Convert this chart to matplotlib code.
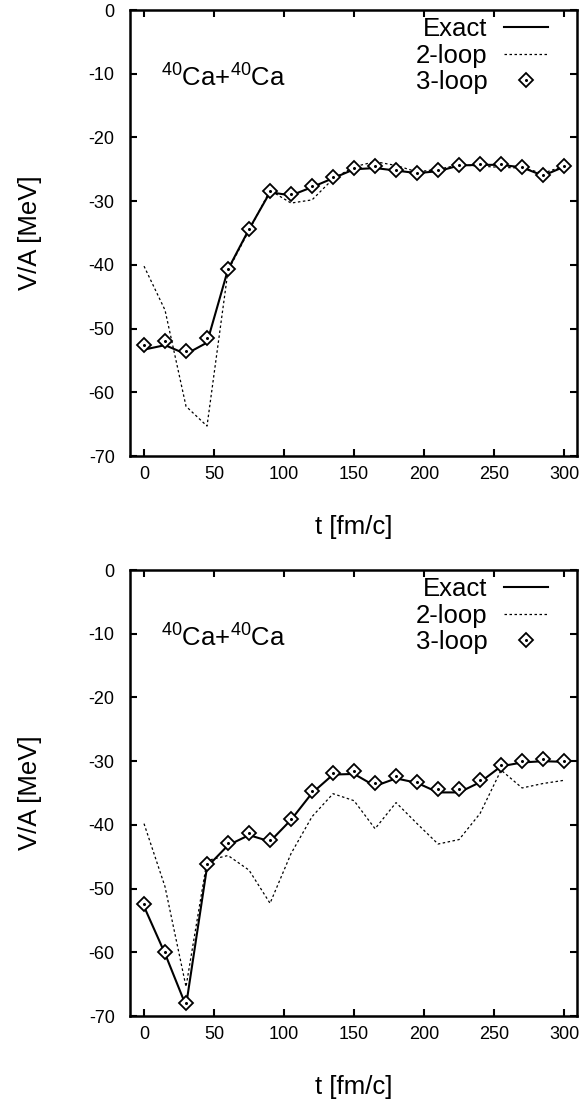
import numpy as np
import matplotlib
matplotlib.use("Agg")
import matplotlib.pyplot as plt
from matplotlib.lines import Line2D

plt.rcParams['font.family'] = ['Liberation Sans', 'DejaVu Sans']
plt.rcParams['mathtext.default'] = 'regular'
plt.rcParams['axes.unicode_minus'] = False

# time grid (fm/c)
t = np.arange(0, 301, 15)

# --- upper panel ---
exact_top = [-53.3, -52.6, -54.0, -52.2, -40.7, -34.4, -28.6, -29.1, -27.8, -26.4, -25.0,
             -24.8, -25.2, -25.6, -25.3, -24.4, -24.3, -24.3, -24.7, -26.0, -24.6]
loop2_top = [-40.2, -47.1, -62.2, -65.3, -40.9, -34.6, -28.3, -30.3, -29.8, -26.5, -24.6,
             -23.8, -24.4, -25.4, -25.0, -24.3, -24.5, -24.7, -24.8, -25.6, -24.5]
loop3_top = [-52.6, -51.9, -53.5, -51.4, -40.7, -34.4, -28.4, -28.9, -27.6, -26.2, -24.8,
             -24.5, -25.1, -25.6, -25.1, -24.3, -24.2, -24.2, -24.7, -25.9, -24.5]

# --- lower panel ---
exact_bot = [-52.8, -60.2, -68.4, -46.6, -43.2, -41.6, -42.6, -39.2, -35.0, -32.1, -32.0,
             -33.9, -32.7, -33.4, -34.9, -34.9, -33.3, -30.8, -30.2, -30.0, -30.1]
loop2_bot = [-39.8, -49.7, -65.4, -45.6, -44.8, -47.1, -52.3, -44.5, -38.7, -35.1, -36.2,
             -40.6, -36.5, -39.8, -43.0, -42.3, -38.2, -31.4, -34.2, -33.5, -33.0]
loop3_bot = [-52.4, -60.0, -67.9, -46.1, -42.9, -41.2, -42.3, -39.0, -34.7, -31.8, -31.5,
             -33.5, -32.4, -33.2, -34.4, -34.3, -33.0, -30.6, -29.9, -29.7, -30.0]

x_ticks = [0, 50, 100, 150, 200, 250, 300]
y_ticks = [0, -10, -20, -30, -40, -50, -60, -70]
label_text = r'$^{40}$Ca+$^{40}$Ca'

MS = 7.6


def draw_panel(ax, exact, loop2, loop3):
    ax.plot(t, exact, color='black', lw=1.5)
    ax.plot(t, loop2, color='black', lw=0.9, linestyle=(0, (2.0, 2.0)))
    ax.plot(t, loop3, linestyle='none', marker='D', ms=MS, mfc='white',
            mec='black', mew=1.3)
    ax.plot(t, loop3, linestyle='none', marker='o', ms=1.2, color='black')

    ax.set_xlim(-10, 309)
    ax.set_ylim(-70, 0)
    ax.set_xticks(x_ticks)
    ax.set_yticks(y_ticks)
    ax.tick_params(direction='in', top=True, right=True, length=5, width=1.5,
                   labelsize=13)
    ax.tick_params(axis='x', pad=7.5)
    ax.tick_params(axis='y', pad=11)
    for sp in ax.spines.values():
        sp.set_linewidth(1.8)

    ax.set_xlabel('t [fm/c]', fontsize=18.5)
    ax.set_ylabel('V/A [MeV]', fontsize=18.5)
    ax.xaxis.set_label_coords(0.5, -0.132)
    ax.yaxis.set_label_coords(-0.197, 0.5)

    ax.text(12, -12, label_text, fontsize=18.5, va='baseline')

    # gnuplot style key: text right aligned, sample on the right
    h_exact = Line2D([], [], color='black', lw=1.5)
    h_loop2 = Line2D([], [], color='black', lw=0.9, linestyle=(0, (2.0, 2.0)))
    h_loop3 = (Line2D([], [], linestyle='none', marker='D', ms=MS, mfc='white',
                      mec='black', mew=1.3),
               Line2D([], [], linestyle='none', marker='o', ms=1.2, color='black'))
    ax.legend([h_exact, h_loop2, h_loop3], ['Exact', '2-loop', '3-loop'],
              loc='upper right', bbox_to_anchor=(0.935, 0.984), frameon=False,
              markerfirst=False, fontsize=18.5, handlelength=1.7,
              handletextpad=0.65, labelspacing=0.1, borderpad=0,
              borderaxespad=0)


fig = plt.figure(figsize=(5.83, 11.02), dpi=100)
ax1 = fig.add_axes([0.2230, 0.5862, 0.7662, 0.4047])
ax2 = fig.add_axes([0.2230, 0.0780, 0.7662, 0.4047])

draw_panel(ax1, exact_top, loop2_top, loop3_top)
draw_panel(ax2, exact_bot, loop2_bot, loop3_bot)

fig.savefig('out.png', dpi=100)
